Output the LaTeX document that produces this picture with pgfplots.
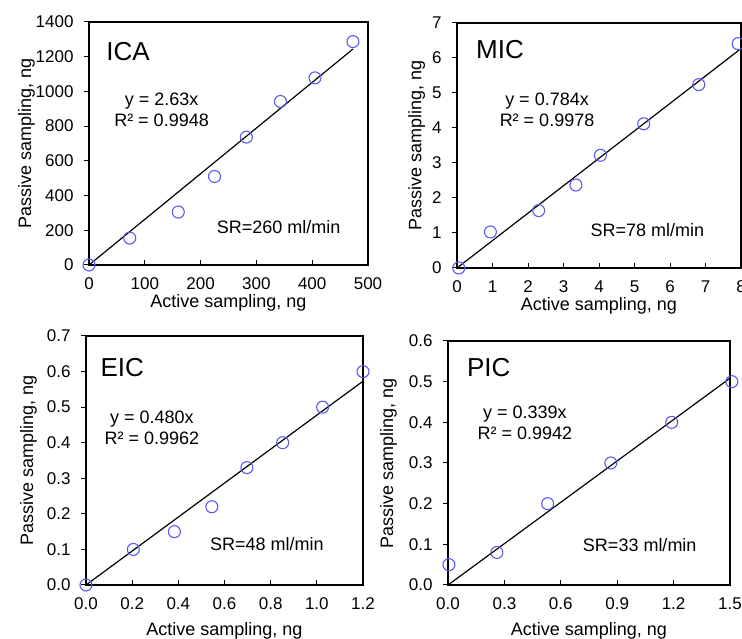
\documentclass[border=0pt]{standalone}
\usepackage{fontspec}
\setmainfont{Liberation Sans}
\usepackage{pgfplots}
\pgfplotsset{compat=1.18}
\definecolor{MarkBlue}{HTML}{5A5AF0}

\pgfplotsset{
  panel/.style={
    scale only axis,
    clip=false,
    axis line style={black, line width=1.2pt},
    tick pos=left,
    tick align=inside,
    major tick length=5pt,
    every tick/.style={black, line width=1pt},
    ytick style={xshift=-5pt},
    tick label style={font=\fontsize{17}{19}\selectfont},
    /pgf/number format/assume math mode=true,
    /pgf/number format/set thousands separator={},
    label style={font=\fontsize{18}{21}\selectfont},
    xlabel={Active sampling, ng},
    ylabel={Passive sampling, ng},
    xticklabel style={yshift=-9pt},
    yticklabel style={xshift=-12pt},
    xlabel style={yshift=2pt},
  },
  pts/.style={only marks, mark=o, mark size=6pt, MarkBlue, mark options={line width=1.1pt}},
  fit/.style={black, line width=1.2pt},
}
\newcommand{\bigname}{\fontsize{26}{29}\selectfont}
\newcommand{\eqfont}{\fontsize{18}{21}\selectfont}

\begin{document}
\begin{tikzpicture}[x=1pt,y=1pt]
\useasboundingbox (0,0) rectangle (742,639);

% ICA
\begin{axis}[panel, at={(89pt,374pt)}, anchor=south west,
  width=279pt, height=243pt,
  xmin=0, xmax=500, ymin=0, ymax=1400,
  xtick={0,100,...,500}, ytick={0,200,...,1400},
  ylabel style={yshift=-6pt}]
\addplot[fit] coordinates {(0,0) (473,1244)};
\addplot[pts] coordinates {
  (0,0) (73,155) (160,305) (225,510) (282,737) (343,942) (405,1078) (473,1287)};
\node[anchor=west, font=\bigname] at (rel axis cs:0.05,0.877) {ICA};
\node[align=center, font=\eqfont] at (rel axis cs:0.26,0.64) {y = 2.63x\\R² = 0.9948};
\node[font=\eqfont] at (rel axis cs:0.68,0.156) {SR=260 ml/min};
\end{axis}

% MIC
\begin{axis}[panel, at={(457pt,371pt)}, anchor=south west,
  width=284pt, height=245pt,
  xmin=0, xmax=8, ymin=0, ymax=7,
  xtick={0,1,...,8}, ytick={0,1,...,7}]
\addplot[fit] coordinates {(0,0) (7.95,6.23)};
\addplot[pts] coordinates {
  (0.05,0) (0.94,1.03) (2.3,1.64) (3.35,2.37) (4.04,3.22) (5.26,4.12) (6.81,5.24) (7.92,6.41)};
\node[anchor=west, font=\bigname] at (rel axis cs:0.055,0.89) {MIC};
\node[align=center, font=\eqfont] at (rel axis cs:0.317,0.645) {y = 0.784x\\R² = 0.9978};
\node[font=\eqfont] at (rel axis cs:0.67,0.155) {SR=78 ml/min};
\end{axis}

% EIC
\begin{axis}[panel, at={(86pt,54pt)}, anchor=south west,
  width=277pt, height=249pt,
  xmin=0, xmax=1.2, ymin=0, ymax=0.7,
  xtick={0,0.2,...,1.2}, ytick={0,0.1,...,0.7},
  xticklabel style={/pgf/number format/.cd, fixed, fixed zerofill, precision=1},
  yticklabel style={/pgf/number format/.cd, fixed, fixed zerofill, precision=1},
  xlabel style={yshift=-8pt}, ylabel style={yshift=3pt}]
\addplot[fit] coordinates {(0,0) (1.2,0.573)};
\addplot[pts] coordinates {
  (0,0) (0.205,0.1) (0.383,0.15) (0.545,0.22) (0.697,0.33) (0.852,0.4) (1.025,0.5) (1.2,0.6)};
\node[anchor=west, font=\bigname] at (rel axis cs:0.04,0.875) {EIC};
\node[align=center, font=\eqfont] at (rel axis cs:0.238,0.63) {y = 0.480x\\R² = 0.9962};
\node[font=\eqfont] at (rel axis cs:0.653,0.165) {SR=48 ml/min};
\end{axis}

% PIC
\begin{axis}[panel, at={(448pt,54pt)}, anchor=south west,
  width=282pt, height=244pt,
  xmin=0, xmax=1.5, ymin=0, ymax=0.6,
  xtick={0,0.3,...,1.5}, ytick={0,0.1,...,0.6},
  xticklabel style={/pgf/number format/.cd, fixed, fixed zerofill, precision=1},
  yticklabel style={/pgf/number format/.cd, fixed, fixed zerofill, precision=1},
  xlabel style={yshift=-8pt}, ylabel style={yshift=5pt}]
\addplot[fit] coordinates {(0,0) (1.5,0.5085)};
\addplot[pts] coordinates {
  (0.005,0.05) (0.26,0.08) (0.53,0.2) (0.866,0.3) (1.19,0.4) (1.51,0.5)};
\node[anchor=west, font=\bigname] at (rel axis cs:0.055,0.89) {PIC};
\node[align=center, font=\eqfont] at (rel axis cs:0.273,0.664) {y = 0.339x\\R² = 0.9942};
\node[font=\eqfont] at (rel axis cs:0.68,0.164) {SR=33 ml/min};
\end{axis}
\end{tikzpicture}
\end{document}
